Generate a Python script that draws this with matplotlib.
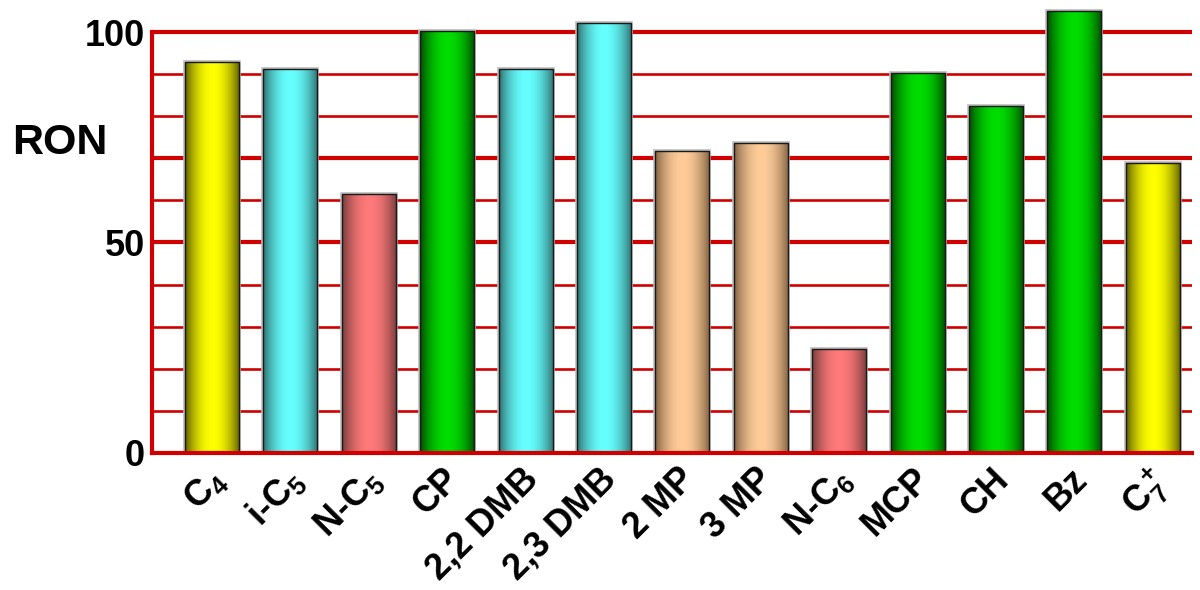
import numpy as np
import matplotlib
matplotlib.use("Agg")
import matplotlib.pyplot as plt
import matplotlib.transforms as mtransforms
from matplotlib.colors import to_rgb

plt.rcParams['font.family'] = ['Liberation Sans', 'DejaVu Sans']
plt.rcParams['mathtext.fontset'] = 'custom'
plt.rcParams['mathtext.rm'] = 'Liberation Sans'
plt.rcParams['mathtext.default'] = 'regular'

# ---- data ----
categories = ['C$_4$', 'i-C$_5$', 'N-C$_5$', 'CP', '2,2 DMB', '2,3 DMB', '2 MP',
              '3 MP', 'N-C$_6$', 'MCP', 'CH', 'Bz', 'C$_7^+$']
ron = [93.0, 91.2, 61.5, 100.3, 91.3, 102.1, 71.8, 73.7, 24.6, 90.3, 82.4, 105.1, 68.8]
groups = ['yellow', 'cyan', 'pink', 'green', 'cyan', 'cyan', 'tan', 'tan',
          'pink', 'green', 'green', 'green', 'yellow']
yticks = [0, 50, 100]

palette = {
    'yellow': ('#FFFF00', '#555500'),
    'cyan': ('#66FFFF', '#2C6868'),
    'pink': ('#FF7A7A', '#703838'),
    'green': ('#00DD00', '#004400'),
    'tan': ('#FFCC99', '#7A5C3E'),
}

fig = plt.figure(figsize=(12, 5.9), dpi=100)
ax = fig.add_axes([152/1200, 1-452.7/590, 1040/1200, 107*4.204/590])
ax.set_xlim(-0.765, 12.5)
ax.set_ylim(0, 107)

red = '#D00000'
for g in range(10, 101, 10):
    lw = 3.0 if g in (50, 70, 100) else 1.9
    ax.axhline(g, color=red, lw=lw, zorder=1)

x = np.arange(len(categories))
width = 0.69
bars = ax.bar(x, ron, width=width, color='none', edgecolor='#1a1a1a',
              linewidth=1.0, zorder=4)

t = np.linspace(0, 1, 200)
prof = np.sin(np.pi * t) ** 0.8
for b, grp in zip(bars, groups):
    light, dark = palette[grp]
    L = np.array(to_rgb(light)); D = np.array(to_rgb(dark))
    img = D[None, None, :] + (L - D)[None, None, :] * prof[None, :, None]
    x0 = b.get_x(); x1 = x0 + b.get_width(); h = b.get_height()
    ax.add_patch(plt.Rectangle((x0, 0), b.get_width(), h, fill=False,
                               edgecolor='#bbbbbb', lw=2.6, zorder=2))
    im = ax.imshow(img, extent=[x0, x1, 0, h], aspect='auto', zorder=3,
                   interpolation='bilinear')
    im.set_clip_path(b)

ax.set_xlim(-0.765, 12.5)
ax.set_ylim(0, 107)

for s in ['top', 'right']:
    ax.spines[s].set_visible(False)
ax.spines['left'].set_bounds(0, 100)
ax.spines['left'].set_color(red)
ax.spines['left'].set_linewidth(3.0)
ax.spines['bottom'].set_color(red)
ax.spines['bottom'].set_linewidth(3.0)
ax.spines['bottom'].set_zorder(5)

ax.set_yticks(yticks)
ax.set_yticklabels([str(v) for v in yticks], fontsize=26, fontweight='bold')
ax.tick_params(axis='y', length=0, pad=5)
ax.set_xticks([])

trans = mtransforms.blended_transform_factory(ax.transData, ax.transAxes)
off = mtransforms.ScaledTranslation(-5/100, -9/100, fig.dpi_scale_trans)
for xi, lab in zip(x, categories):
    ax.text(xi, 0, lab, transform=trans + off, rotation=45, ha='right', va='top',
            rotation_mode='anchor', fontsize=26, fontweight='bold')

fig.text(12/1200, 1-143/590, 'RON', fontsize=31, fontweight='bold',
         ha='left', va='center')

fig.savefig('out.png', dpi=100)
